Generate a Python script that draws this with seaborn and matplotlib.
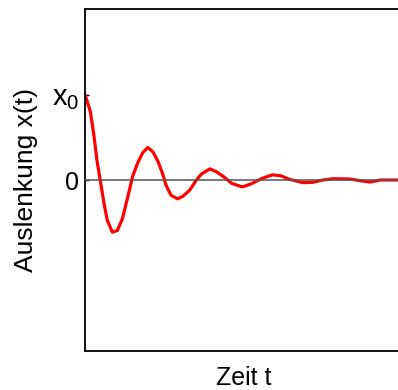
import matplotlib
matplotlib.use("Agg")
import matplotlib.pyplot as plt
import seaborn as sns
import pandas as pd

# data (t in arbitrary units, x(t) in units of x0)
t_vals = [0.0, 5.3, 8.7, 12.0, 15.3, 18.7, 22.0, 27.0, 32.0, 37.0, 42.0, 47.0,
          52.0, 57.0, 62.0, 67.0, 72.0, 77.0, 80.0, 85.0, 91.7, 96.7, 103.3,
          110.0, 115.0, 123.3, 130.0, 136.7, 145.0, 155.0, 158.3, 165.0, 175.0,
          185.0, 193.3, 201.7, 215.0, 225.0, 235.0, 245.0, 261.7, 271.7, 281.7,
          291.7, 305.0, 313.0]
x_vals = [1.0, 0.80, 0.53, 0.215, -0.02, -0.27, -0.47, -0.61, -0.59, -0.45,
          -0.21, 0.04, 0.20, 0.32, 0.38, 0.33, 0.22, 0.06, -0.06, -0.18, -0.22,
          -0.19, -0.12, 0.0, 0.07, 0.13, 0.095, 0.04, -0.04, -0.08, -0.07,
          -0.04, 0.02, 0.06, 0.05, 0.008, -0.03, -0.027, 0.0, 0.015, 0.012,
          -0.008, -0.024, 0.0, 0.0, 0.0]
ytick_pos = [0, 1]
ytick_labels = ["0", "$x_0$"]
xlabel = "Zeit t"
ylabel = "Auslenkung x(t)"

sns.set_style("white")
plt.rcParams["font.family"] = ["Liberation Sans", "DejaVu Sans"]
plt.rcParams["mathtext.fontset"] = "custom"
plt.rcParams["mathtext.rm"] = "Liberation Sans"
plt.rcParams["mathtext.it"] = "Liberation Sans"
plt.rcParams["text.color"] = "black"
plt.rcParams["axes.labelcolor"] = "black"
plt.rcParams["ytick.color"] = "black"

df = pd.DataFrame({"t": t_vals, "x": x_vals})

fig = plt.figure(figsize=(3.98, 3.90), dpi=100)
ax = fig.add_axes([85 / 398, 39 / 390, 1 - 85 / 398 + 0.01, 342 / 390])
sns.lineplot(data=df, x="t", y="x", color="#ff0000", linewidth=2.3, ax=ax, zorder=2)
ax.axhline(0, color="#555555", linewidth=1.1, zorder=3)

ax.set_xlim(0, 313)
ax.set_ylim(-2.0, 2.0)
ax.set_xticks([])
ax.set_yticks(ytick_pos)
ax.set_yticklabels(ytick_labels, fontsize=18)
ax.get_yticklabels()[1].set_fontsize(21)
ax.tick_params(axis="y", direction="in", length=3, width=1, pad=4, left=True,
               colors="black")
ax.set_xlabel(xlabel, fontsize=18, labelpad=11)
ax.set_ylabel(ylabel, fontsize=19, labelpad=10)
for s in ["left", "bottom", "top"]:
    ax.spines[s].set_visible(True)
    ax.spines[s].set_color("black")
    ax.spines[s].set_linewidth(1.3)
ax.spines["right"].set_visible(False)

fig.savefig("out.png", dpi=100)
